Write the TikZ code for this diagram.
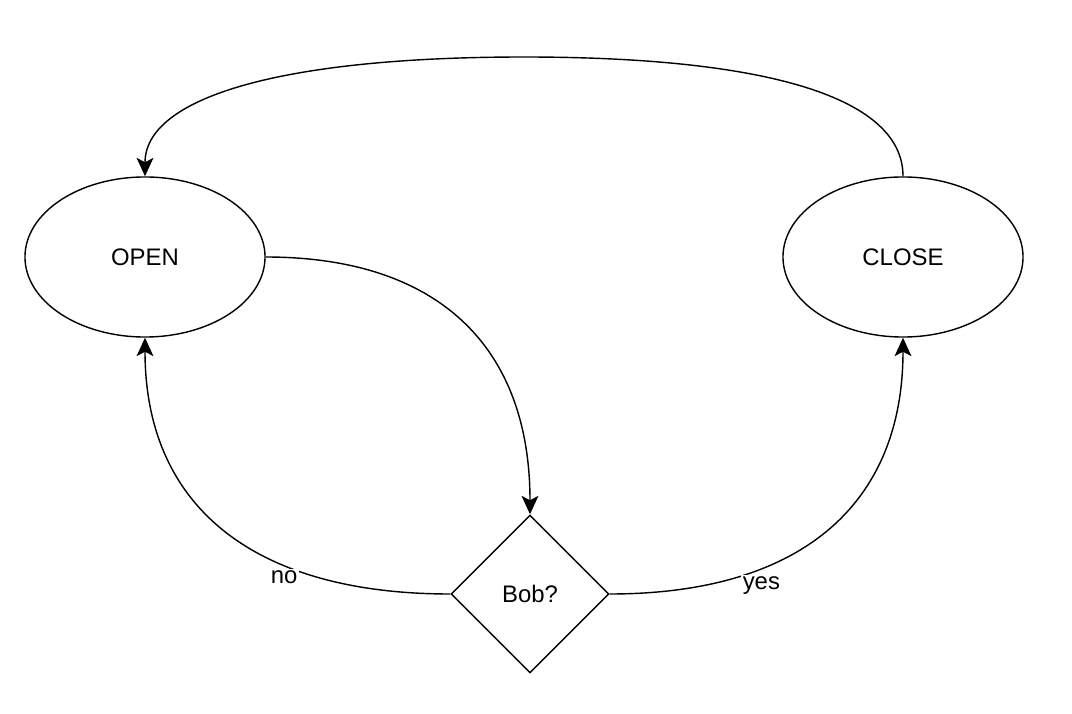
\documentclass[tikz,border=0pt]{standalone}
\usepackage{fontspec}
\setmainfont{Liberation Sans}
\usetikzlibrary{shapes.geometric,arrows.meta}
\begin{document}
\begin{tikzpicture}[x=0.025cm, y=-0.025cm, line width=1pt,
		state/.style = {draw, ellipse, minimum width=6cm, minimum height=4cm, inner sep=0pt},
		test/.style = {draw, diamond, minimum width=3.95cm, minimum height=3.95cm, inner sep=0pt},
		edge/.style = {-{Stealth[length=0.46cm, width=0.42cm, inset=0.11cm]}},
		lbl/.style = {fill=white, inner sep=1pt}]
		\useasboundingbox (0, 0) rectangle (1072, 714);
		\fontsize{17}{20}\selectfont
		\node[state] (open) at (145, 257) {OPEN};
		\node[state] (close) at (903, 257) {CLOSE};
		\node[test] (bob) at (530, 594) {Bob?};
		% curves
		\draw[edge] (open.east) .. controls +(172, 0) and +(0, -168) .. (bob.north);
		\draw[edge] (bob.west) .. controls +(-199, 0) and +(0, 167) .. (open.south)node[lbl, pos=0.33, yshift=-0.3cm]{no};
		\draw[edge] (bob.east) .. controls +(191, 0) and +(0, 167) .. (close.south)node[lbl, pos=0.31, yshift=-0.42cm]{yes};
		\coordinate (top) at (524, 57);
		\draw[edge] (close.north) .. controls +(0, -78) and +(246, 0) .. (top) .. controls +(-246, 0) and +(0, -78) .. (open.north);
	\end{tikzpicture}
\end{document}
